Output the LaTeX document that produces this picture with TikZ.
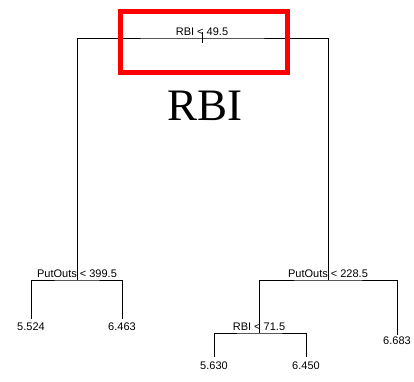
\documentclass[tikz,border=0pt]{standalone}
\usepackage{fontspec}
\setmainfont{Liberation Sans}
\newfontfamily\bigserif{Liberation Serif}
\usetikzlibrary{positioning}

\tikzset{
  branch/.style={draw=black,line width=0.8pt},
  splitlabel/.style={inner sep=0pt,font=\fontsize{11}{13}\selectfont},
  leaflabel/.style={inner sep=0pt,font=\fontsize{11}{13}\selectfont}
}

\begin{document}
\begin{tikzpicture}[x=1pt,y=-1pt]
      \useasboundingbox (0,0) rectangle (414,381);

      % split points and leaf ends
      \coordinate (root) at (202,38);
      \coordinate (pl)   at (77,280);
      \coordinate (pr)   at (328,280);
      \coordinate (rb)   at (259,333);
      \coordinate (l1)   at (31,319);
      \coordinate (l2)   at (122,319);
      \coordinate (l3)   at (214,357);
      \coordinate (l4)   at (306,357);
      \coordinate (l5)   at (397,335);
      \coordinate (stubtop) at (202,32);
      \coordinate (stubbot) at (202,43);

      \begin{scope}[every path/.style={branch}]
        \draw (stubtop) -- (stubbot);
        \draw (pl) |- (root) -| (pr);
        \draw (l1) |- (pl) -| (l2);
        \draw (rb) |- (pr) -| (l5);
        \draw (l3) |- (rb) -| (l4);
      \end{scope}

      \begin{scope}[every node/.style={splitlabel}]
        \node[above=2pt of root] (sroot) {RBI < 49.5};
        \node[above=2.5pt of pl] (spl) {PutOuts < 399.5};
        \node[above=2.5pt of pr] (spr) {PutOuts < 228.5};
        \node[above=2.5pt of rb] (srb) {RBI < 71.5};
      \end{scope}

      \begin{scope}[every node/.style={leaflabel}]
        \node[below=4pt of l1] (v1) {5.524};
        \node[below=4pt of l2] (v2) {6.463};
        \node[below=5pt of l3] (v3) {5.630};
        \node[below=5pt of l4] (v4) {6.450};
        \node[below=2pt of l5] (v5) {6.683};
      \end{scope}

      % highlight around the first split
      \draw[red,line width=5pt] (120.5,11.8) rectangle (287.3,72.2);
      \node[anchor=base,inner sep=0pt,font=\bigserif\fontsize{45}{50}\selectfont] (title) at (205,120) {RBI};

    \end{tikzpicture}
\end{document}
